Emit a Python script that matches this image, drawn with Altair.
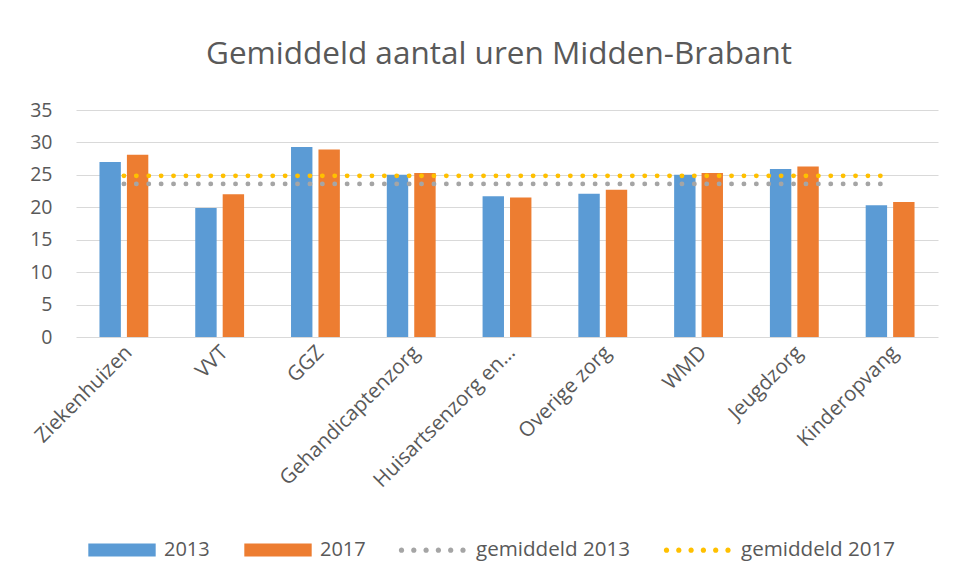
import altair as alt
import pandas as pd

categories = ["Ziekenhuizen", "VVT", "GGZ", "Gehandicaptenzorg", "Huisartsenzorg en…",
              "Overige zorg", "WMD", "Jeugdzorg", "Kinderopvang"]
uren_2013 = [27.0, 19.9, 29.3, 25.0, 21.7, 22.1, 25.0, 25.9, 20.3]
uren_2017 = [28.1, 22.0, 28.9, 25.3, 21.5, 22.7, 25.3, 26.3, 20.8]
gemiddeld_2013 = [23.6] * 9
gemiddeld_2017 = [24.85] * 9
y_ticks = [0, 5, 10, 15, 20, 25, 30, 35]

bar_series = ["2013", "2017"]
bar_colors = ["#5B9BD5", "#ED7D31"]
line_series = ["gemiddeld 2013", "gemiddeld 2017"]
line_colors = ["#A5A5A5", "#FFC000"]

bar_df = pd.DataFrame({
    "categorie": categories * 2,
    "jaar": ["2013"] * 9 + ["2017"] * 9,
    "uren": uren_2013 + uren_2017,
})
line_df = pd.DataFrame({
    "categorie": categories * 2,
    "reeks": ["gemiddeld 2013"] * 9 + ["gemiddeld 2017"] * 9,
    "uren": gemiddeld_2013 + gemiddeld_2017,
})

FONT = "Open Sans"
TXT = "#595959"

rect_path = "M-1,-0.195L1,-0.195L1,0.195L-1,0.195Z"
r = 0.079
dots = []
for k in range(6):
    cx = -0.905 + k * 0.365
    dots.append(f"M{cx - r:.3f},0a{r},{r} 0 1,0 {2 * r:.3f},0a{r},{r} 0 1,0 {-2 * r:.3f},0Z")
dots_path = "".join(dots)

x_enc = alt.X("categorie:N", sort=categories,
              scale=alt.Scale(paddingInner=0.49, paddingOuter=0.245),
              axis=alt.Axis(title=None, labelAngle=-45, labelFont=FONT, labelFontSize=20.5,
                            labelColor=TXT, domain=False, ticks=False, labelPadding=5,
                            labelOffset=-2, labelLimit=300))
y_enc = alt.Y("uren:Q", scale=alt.Scale(domain=[0, 35], nice=False),
              axis=alt.Axis(title=None, values=y_ticks, labelFont=FONT, labelFontSize=19.5,
                            labelColor=TXT, domain=False, ticks=False, labelPadding=24,
                            labelOverlap=False, grid=True, gridColor="#D9D9D9", gridWidth=1.2))

bars = alt.Chart(bar_df).mark_bar().encode(
    x=x_enc,
    xOffset=alt.XOffset("jaar:N", sort=bar_series, scale=alt.Scale(paddingInner=0.22)),
    y=y_enc,
    color=alt.Color("jaar:N", scale=alt.Scale(domain=bar_series, range=bar_colors),
                    legend=alt.Legend(title=None, orient="none", legendX=12, legendY=406,
                                      direction="horizontal", symbolType=rect_path,
                                      symbolSize=4540, symbolStrokeWidth=0,
                                      labelFont=FONT, labelFontSize=20, labelColor=TXT,
                                      labelOffset=8, columnPadding=34, padding=0)),
)

lines = alt.Chart(line_df).mark_line(strokeWidth=4.8, strokeDash=[0.1, 12.3],
                                     strokeCap="round").encode(
    x=x_enc,
    y=y_enc,
    stroke=alt.Stroke("reeks:N", scale=alt.Scale(domain=line_series, range=line_colors),
                      legend=None),
    fill=alt.Fill("reeks:N", scale=alt.Scale(domain=line_series, range=line_colors),
                  legend=alt.Legend(title=None, orient="none", legendX=322, legendY=406,
                                    direction="horizontal", symbolType=dots_path,
                                    symbolSize=4540, symbolStrokeWidth=0,
                                    labelFont=FONT, labelFontSize=20.6, labelColor=TXT,
                                    labelOffset=10, columnPadding=32, padding=0)),
)

chart = alt.layer(bars, lines).properties(
    width=862, height=227,
    title=alt.TitleParams("Gemiddeld aantal uren Midden-Brabant", font=FONT, fontSize=31.5,
                          fontWeight="normal", color=TXT, anchor="middle", offset=30, dx=-8),
    autosize=alt.AutoSizeParams(type="none"),
    padding={"left": 68, "top": 102, "right": 8, "bottom": 230},
).configure(background="white").configure_view(stroke=None)

chart.save("out.html", embed_options={"renderer": "svg", "actions": False})
